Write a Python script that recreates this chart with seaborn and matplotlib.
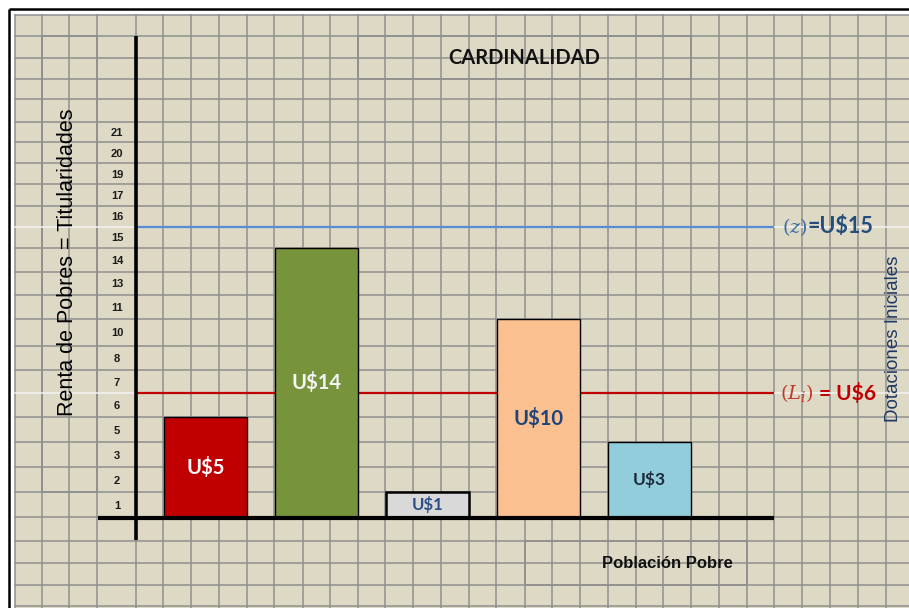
import numpy as np
import matplotlib
matplotlib.use("Agg")
import matplotlib.pyplot as plt
import matplotlib.transforms as mtransforms
from matplotlib.patches import Rectangle
import seaborn as sns

# ---- data ----
CATEGORIES = ["p1", "p2", "p3", "p4", "p5"]
INCOMES = [5, 14, 1, 10, 3]
BAR_LABELS = [r"U\$5", r"U\$14", r"U\$1", r"U\$10", r"U\$3"]
Y_TICKS = [1, 2, 3, 5, 6, 7, 8, 10, 11, 13, 14, 15, 16, 17, 19, 20, 21]
POVERTY_LINE = 15   # (z)
ENDOWMENT = 6       # (L_i)

# ---- styling ----
BAR_COLORS = ["#C00000", "#77933C", "#D9D9D9", "#FAC090", "#92CDDC"]
LABEL_COLORS = ["white", "#F4F4F4", "#2B4E86", "#1F4479", "#1E2B3C"]
LABEL_SIZES = [14.5, 14.5, 12, 14.5, 12.5]
TAN = "#DDD9C4"
GRID = "#8F8F8F"
LIGHT = "#F2F2F2"

# spreadsheet layout (pixels)
W, H = 909, 608
ROW_EDGES = [15, 36, 57.7, 79, 99.3, 121.7, 142.3, 163.3, 184.3, 205.7, 226.7,
             248.3, 271.7, 295, 319, 345.7, 370, 393.3, 417.3, 442.3, 467.3,
             492.3, 517.3, 541.3, 563.3, 584.7, 605.7]
COL_EDGES = [15, 41.7, 69, 97.3, 136, 163.3, 190.7, 219, 246.7, 274.3, 302.7,
             330, 357.7, 385, 413.3, 441, 469, 496.3, 524.7, 552.3, 579.7, 608,
             635.7, 663.3, 690.7, 719, 746.7, 774, 801.7, 830, 858, 885.7]
LIGHT_ROWS = [10, 17]
MERGED = [(41.7, 36, 97.3, 492.3), (357.7, 36, 690.7, 79), (524.7, 541.3, 746.7, 584.7)]

plt.rcParams["font.family"] = ["Liberation Sans", "DejaVu Sans"]
plt.rcParams["mathtext.fontset"] = "dejavuserif"

fig = plt.figure(figsize=(W / 100, H / 100), dpi=100, facecolor="white")

# background sheet
bg = fig.add_axes([0, 0, 1, 1], zorder=0)
bg.set_xlim(0, W)
bg.set_ylim(H, 0)
bg.axis("off")
bg.add_patch(Rectangle((15, 15), W - 15, H - 15, facecolor=TAN, edgecolor="none"))
for x in COL_EDGES:
    bg.plot([x, x], [15, H], color=GRID, lw=1.1)
for i, y in enumerate(ROW_EDGES):
    bg.plot([15, W], [y, y], color=LIGHT if i in LIGHT_ROWS else GRID, lw=1.1)
for x0, y0, x1, y1 in MERGED:
    bg.add_patch(Rectangle((x0, y0), x1 - x0, y1 - y0, facecolor=TAN,
                           edgecolor=GRID, lw=1.1))

# chart area
x_left, x_right = COL_EDGES[4], COL_EDGES[27]
y_top, y_base = ROW_EDGES[5], ROW_EDGES[22]
ax = fig.add_axes([x_left / W, 1 - y_base / H, (x_right - x_left) / W,
                   (y_base - y_top) / H], zorder=1)
ax.patch.set_alpha(0)

# uneven spreadsheet rows -> value scale
level_px = np.array(ROW_EDGES[5:23][::-1])
level_val = np.array([0] + Y_TICKS, dtype=float)


def fwd(v):
    return -np.interp(v, level_val, level_px)


def inv(u):
    return np.interp(-np.asarray(u), level_px[::-1], level_val[::-1])


sns.barplot(x=CATEGORIES, y=INCOMES, hue=CATEGORIES, palette=BAR_COLORS,
            width=0.75, saturation=1, edgecolor="black", linewidth=1.0,
            legend=False, ax=ax, zorder=2)
ax.patches[2].set_linewidth(1.8)

ax.set_yscale("function", functions=(fwd, inv))
ax.set_ylim(0, Y_TICKS[-1])
ax.set_xlim(-0.625, 5.125)
for s in ax.spines.values():
    s.set_visible(False)
ax.set_xlabel("")
ax.set_ylabel("")
ax.tick_params(axis="x", bottom=False, labelbottom=False)

mids = [float(inv((fwd(lo) + fwd(hi)) / 2)) for lo, hi in zip([0] + Y_TICKS[:-1], Y_TICKS)]
ax.set_yticks(mids, labels=[str(t) for t in Y_TICKS])
ax.yaxis.set_minor_locator(matplotlib.ticker.NullLocator())
ax.tick_params(axis="y", length=0, pad=13.7, labelsize=8, labelcolor="#1A1A1A")
for lab in ax.get_yticklabels():
    lab.set_fontweight("bold")
    lab.set_ha("center")

for i, (val, lab, col, fs) in enumerate(zip(INCOMES, BAR_LABELS, LABEL_COLORS, LABEL_SIZES)):
    ymid = float(inv((fwd(0) + fwd(val)) / 2))
    ax.text(i, ymid, lab, ha="center", va="center", color=col, fontsize=fs,
            fontweight="bold", family="Lato", zorder=4)

ax.axhline(ENDOWMENT, color="#C00000", lw=1.6, zorder=0.5)
ax.axhline(POVERTY_LINE, color="#558ED5", lw=1.6, zorder=3)

tr = mtransforms.blended_transform_factory(bg.transData, ax.transData)
tz = ax.text(782, POVERTY_LINE, r"$(z)$", transform=tr, ha="left", va="center",
             color="#3B6BA8", fontsize=14, clip_on=False)
ax.annotate(r"=U\$15", xy=(1, 0.5), xycoords=tz, ha="left", va="center",
            color="#244D7E", fontsize=15.5, fontweight="bold", family="Lato")
tl = ax.text(780, ENDOWMENT, r"$(L_i)$", transform=tr, ha="left", va="center",
             color="#C0392B", fontsize=14, clip_on=False)
ax.annotate(r"= U\$6", xy=(1, 0.5), xycoords=tl, xytext=(4, 0),
            textcoords="offset points", ha="left", va="center",
            color="#C00000", fontsize=15, fontweight="bold", family="Lato")

# frame and thick axis lines on top
fg = fig.add_axes([0, 0, 1, 1], zorder=3)
fg.set_xlim(0, W)
fg.set_ylim(H, 0)
fg.axis("off")
fg.patch.set_alpha(0)
fg.plot([9, W], [9, 9], color="black", lw=1.8, solid_capstyle="butt")
fg.plot([9, 9], [9, H], color="black", lw=1.8, solid_capstyle="butt")
fg.plot([98, x_right], [518, 518], color="black", lw=3.0, solid_capstyle="butt")
fg.plot([x_left, x_left], [36, 540], color="black", lw=2.6, solid_capstyle="butt")

# texts in merged cells
fg.text(67.5, 262.5, "Renta de Pobres = Titularidades", rotation=90, ha="center",
        va="center", fontsize=15.5, color="black")
fg.text(524.5, 57.5, "CARDINALIDAD", ha="center", va="center", fontsize=14.5,
        fontweight="bold", family="Lato", color="#111111")
fg.text(667.5, 563, "Población Pobre", ha="center", va="center", fontsize=12,
        fontweight="bold", color="#111111")
fg.text(893, 339, "Dotaciones Iniciales", rotation=90, ha="center", va="center",
        fontsize=13.5, color="#1F3864")

fig.savefig("out.png", dpi=100)
